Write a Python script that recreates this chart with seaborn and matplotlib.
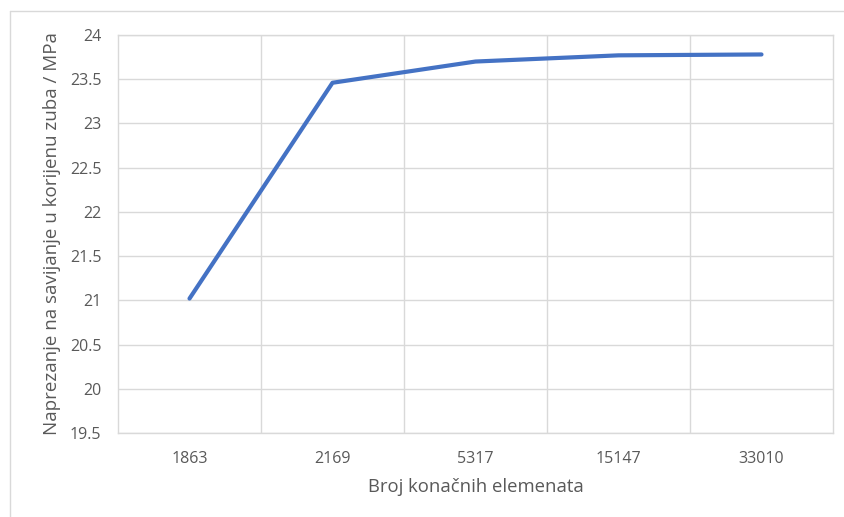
import pandas as pd
import matplotlib.pyplot as plt
import seaborn as sns
from matplotlib.lines import Line2D

# Data
elements = ['1863', '2169', '5317', '15147', '33010']
stress = [21.02, 23.46, 23.70, 23.77, 23.78]

df = pd.DataFrame({'Broj': elements, 'Naprezanje': stress})

sns.set_style('white')
plt.rcParams['font.family'] = ['Open Sans', 'DejaVu Sans']

fig = plt.figure(figsize=(8.45, 5.17), dpi=100)
ax = fig.add_axes([118 / 845, 1 - 433 / 517, (833 - 118) / 845, (433 - 35) / 517])

sns.lineplot(data=df, x='Broj', y='Naprezanje', ax=ax, color='#4472C4',
             linewidth=3, sort=False)

grid_col = '#D9D9D9'
ax.set_xlim(-0.5, len(elements) - 0.5)
ax.set_ylim(19.5, 24)
ax.set_yticks([19.5 + 0.5 * i for i in range(10)])
ax.set_yticklabels(['19.5', '20', '20.5', '21', '21.5', '22', '22.5', '23', '23.5', '24'])
ax.set_xticks(range(len(elements)))
ax.set_xticks([i + 0.5 for i in range(len(elements) - 1)], minor=True)
ax.grid(axis='y', which='major', color=grid_col, linewidth=1)
ax.grid(axis='x', which='minor', color=grid_col, linewidth=1)
ax.grid(axis='x', which='major', visible=False)
ax.set_axisbelow(True)
for s in ax.spines.values():
    s.set_color(grid_col)
    s.set_linewidth(1)

ax.tick_params(axis='both', which='both', length=0, labelsize=11.5, colors='#595959')
ax.tick_params(axis='x', pad=13)
ax.tick_params(axis='y', pad=12)

ax.set_xlabel('Broj konačnih elemenata', fontsize=13.3, color='#595959', labelpad=8)
ax.set_ylabel('Naprezanje na savijanje u korijenu zuba / MPa', fontsize=13.5,
              color='#595959', labelpad=6)

# light frame of the chart area (left and top edges visible)
fig.add_artist(Line2D([10 / 845, 10 / 845], [0, 1 - 11 / 517], transform=fig.transFigure,
                      color=grid_col, linewidth=1))
fig.add_artist(Line2D([10 / 845, 1], [1 - 11 / 517, 1 - 11 / 517], transform=fig.transFigure,
                      color=grid_col, linewidth=1))

fig.savefig('out.png', dpi=100)
